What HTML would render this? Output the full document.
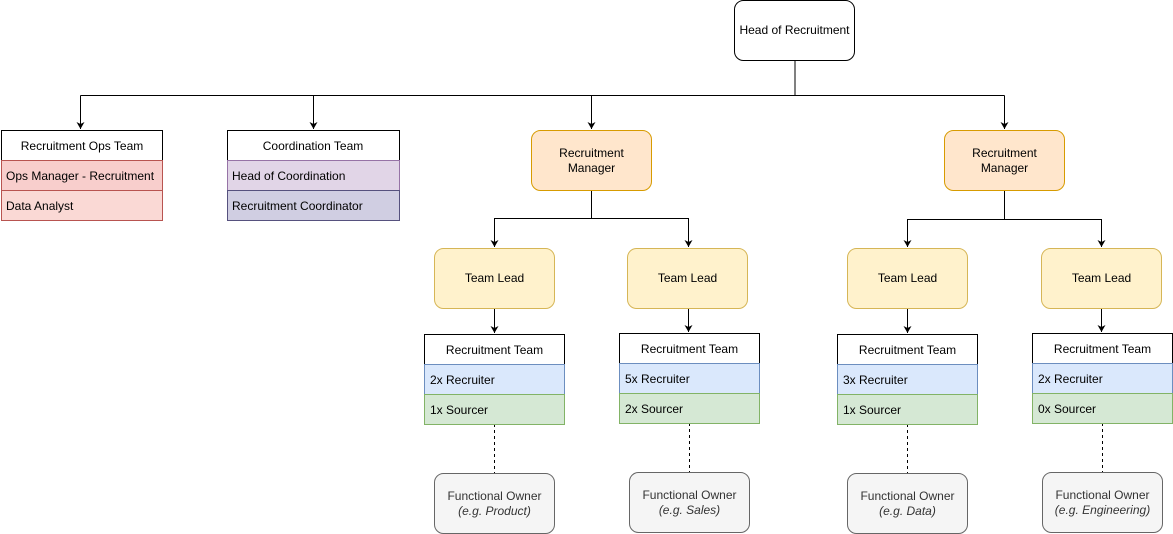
<!DOCTYPE html>
<html><head><meta charset="utf-8"><style>
html,body{margin:0;padding:0;background:#fff;}
svg{display:block;font-family:"Liberation Sans",Helvetica,Arial,sans-serif;font-size:12px;}
</style></head><body>
<svg width="1173" height="534" viewBox="0 0 1173 534" xmlns="http://www.w3.org/2000/svg">
<defs>
<marker id="a" markerWidth="8" markerHeight="8" refX="7" refY="4" orient="auto" markerUnits="userSpaceOnUse">
<path d="M0,0 L7,4 L0,8 L2,4 Z" fill="#000"/>
</marker>
</defs>
<g fill="none" stroke="#000" stroke-width="1">
<path d="M795,60 V95.5"/>
<path d="M80.5,95.5 H1004.5"/>
<path d="M80.5,95.5 V129" marker-end="url(#a)"/>
<path d="M313.5,95.5 V129" marker-end="url(#a)"/>
<path d="M591.5,95.5 V129" marker-end="url(#a)"/>
<path d="M1004.5,95.5 V129" marker-end="url(#a)"/>
<path d="M591.5,190 V218.5 H494.5 V247" marker-end="url(#a)"/>
<path d="M591.5,218.5 H688.5 V247" marker-end="url(#a)"/>
<path d="M1004.5,190 V219.5 H907.5 V247" marker-end="url(#a)"/>
<path d="M1004.5,219.5 H1101.5 V247" marker-end="url(#a)"/>
<path d="M494.5,308 V333" marker-end="url(#a)"/>
<path d="M688.5,308 V332" marker-end="url(#a)"/>
<path d="M907.5,308 V333" marker-end="url(#a)"/>
<path d="M1101.5,308 V332" marker-end="url(#a)"/>
<g stroke-dasharray="3,3">
<path d="M494.5,424 V473"/><path d="M689.5,423 V472"/><path d="M907.5,424 V473"/><path d="M1102.5,423 V472"/>
</g>
</g>
<!-- Head -->
<rect x="734.5" y="0.5" width="120" height="60" rx="9" fill="#fff" stroke="#000"/>
<text x="794.5" y="34" text-anchor="middle">Head of Recruitment</text>
<!-- Ops -->
<rect x="1.5" y="130.5" width="161" height="30" fill="#fff" stroke="#000"/>
<text x="82" y="150" text-anchor="middle">Recruitment Ops Team</text>
<rect x="1.5" y="160.5" width="161" height="30" fill="#f8cecc" stroke="#b85450"/>
<text x="6" y="180">Ops Manager - Recruitment</text>
<rect x="1.5" y="190.5" width="161" height="30" fill="#fad9d5" stroke="#b85450"/>
<text x="6" y="210">Data Analyst</text>
<!-- Coord -->
<rect x="227.5" y="130.5" width="172" height="30" fill="#fff" stroke="#000"/>
<text x="313" y="150" text-anchor="middle">Coordination Team</text>
<rect x="227.5" y="160.5" width="172" height="30" fill="#e1d5e7" stroke="#9673a6"/>
<text x="232" y="180">Head of Coordination</text>
<rect x="227.5" y="190.5" width="172" height="30" fill="#d0cee2" stroke="#56517e"/>
<text x="232" y="210">Recruitment Coordinator</text>
<!-- RMs -->
<rect x="531.5" y="130.5" width="120" height="60" rx="9" fill="#ffe6cc" stroke="#d79b00"/>
<text x="591.5" y="157" text-anchor="middle">Recruitment</text><text x="591.5" y="172" text-anchor="middle">Manager</text>
<rect x="944.5" y="130.5" width="120" height="60" rx="9" fill="#ffe6cc" stroke="#d79b00"/>
<text x="1004.5" y="157" text-anchor="middle">Recruitment</text><text x="1004.5" y="172" text-anchor="middle">Manager</text>
<!-- Team leads -->
<g fill="#fff2cc" stroke="#d6b656">
<rect x="434.5" y="248.5" width="120" height="60" rx="9"/>
<rect x="627.5" y="248.5" width="120" height="60" rx="9"/>
<rect x="847.5" y="248.5" width="120" height="60" rx="9"/>
<rect x="1041.5" y="248.5" width="120" height="60" rx="9"/>
</g>
<g text-anchor="middle">
<text x="494.5" y="282">Team Lead</text><text x="687.5" y="282">Team Lead</text>
<text x="907.5" y="282">Team Lead</text><text x="1101.5" y="282">Team Lead</text>
</g>
<!-- Recruitment teams -->
<g>
<rect x="424.5" y="334.5" width="140" height="30" fill="#fff" stroke="#000"/>
<rect x="424.5" y="364.5" width="140" height="30" fill="#dae8fc" stroke="#6c8ebf"/>
<rect x="424.5" y="394.5" width="140" height="30" fill="#d5e8d4" stroke="#82b366"/>
<text x="494.5" y="354" text-anchor="middle">Recruitment Team</text>
<text x="430" y="384">2x Recruiter</text><text x="430" y="414">1x Sourcer</text>
</g>
<g>
<rect x="619.5" y="333.5" width="140" height="30" fill="#fff" stroke="#000"/>
<rect x="619.5" y="363.5" width="140" height="30" fill="#dae8fc" stroke="#6c8ebf"/>
<rect x="619.5" y="393.5" width="140" height="30" fill="#d5e8d4" stroke="#82b366"/>
<text x="689.5" y="353" text-anchor="middle">Recruitment Team</text>
<text x="625" y="383">5x Recruiter</text><text x="625" y="413">2x Sourcer</text>
</g>
<g>
<rect x="837.5" y="334.5" width="140" height="30" fill="#fff" stroke="#000"/>
<rect x="837.5" y="364.5" width="140" height="30" fill="#dae8fc" stroke="#6c8ebf"/>
<rect x="837.5" y="394.5" width="140" height="30" fill="#d5e8d4" stroke="#82b366"/>
<text x="907.5" y="354" text-anchor="middle">Recruitment Team</text>
<text x="843" y="384">3x Recruiter</text><text x="843" y="414">1x Sourcer</text>
</g>
<g>
<rect x="1032.5" y="333.5" width="140" height="30" fill="#fff" stroke="#000"/>
<rect x="1032.5" y="363.5" width="140" height="30" fill="#dae8fc" stroke="#6c8ebf"/>
<rect x="1032.5" y="393.5" width="140" height="30" fill="#d5e8d4" stroke="#82b366"/>
<text x="1102.5" y="353" text-anchor="middle">Recruitment Team</text>
<text x="1038" y="383">2x Recruiter</text><text x="1038" y="413">0x Sourcer</text>
</g>
<!-- Functional owners -->
<g fill="#f5f5f5" stroke="#666">
<rect x="434.5" y="473.5" width="120" height="60" rx="9"/>
<rect x="629.5" y="472.5" width="120" height="60" rx="9"/>
<rect x="847.5" y="473.5" width="120" height="60" rx="9"/>
<rect x="1042.5" y="472.5" width="120" height="60" rx="9"/>
</g>
<g text-anchor="middle" fill="#333">
<text x="494.5" y="500">Functional Owner</text><text x="494.5" y="515" font-style="italic">(e.g. Product)</text>
<text x="689.5" y="499">Functional Owner</text><text x="689.5" y="514" font-style="italic">(e.g. Sales)</text>
<text x="907.5" y="500">Functional Owner</text><text x="907.5" y="515" font-style="italic">(e.g. Data)</text>
<text x="1102.5" y="499">Functional Owner</text><text x="1102.5" y="514" font-style="italic">(e.g. Engineering)</text>
</g>
</svg>
</body></html>
